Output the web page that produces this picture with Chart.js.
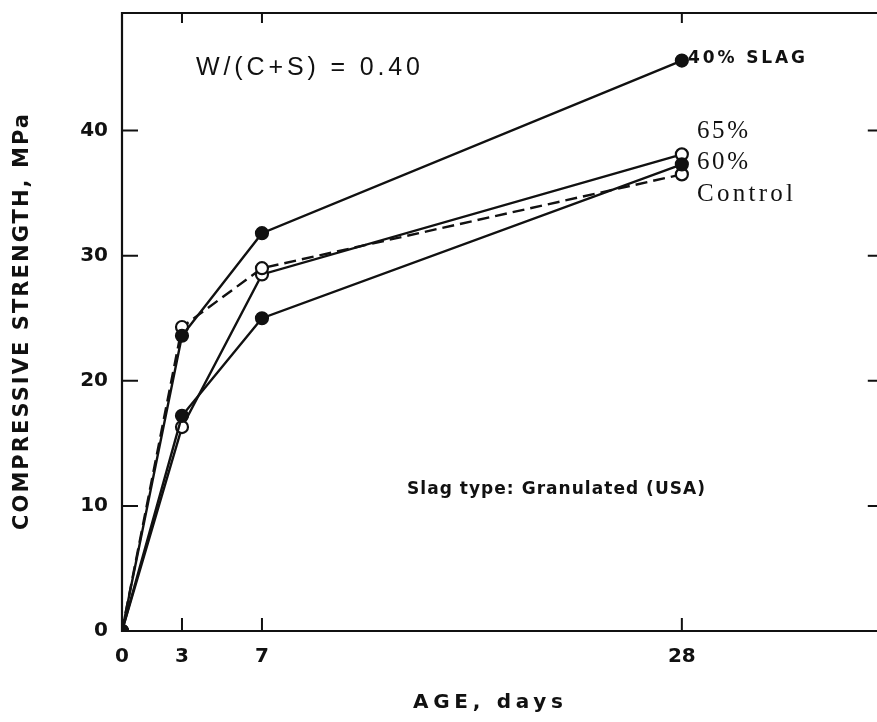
<!DOCTYPE html>
<html>
<head>
<meta charset="utf-8">
<script src="https://cdn.jsdelivr.net/npm/chart.js@4.4.1/dist/chart.umd.min.js"></script>
<style>
html,body{margin:0;padding:0;background:#fff;overflow:hidden;}
#wrap{width:890px;height:722px;}
</style>
</head>
<body>
<div id="wrap"><canvas id="c" width="890" height="722"></canvas></div>
<script>
// Data (age in days, compressive strength in MPa)
const ageDays = [0, 3, 7, 28];
const slag40 = [0, 23.6, 31.8, 45.6];
const control = [0, 24.3, 29.0, 36.5];
const slag65 = [0, 16.3, 28.5, 38.1];
const slag60 = [0, 17.2, 25.0, 37.3];
const xTickValues = [0, 3, 7, 28];
const yTickValues = [0, 10, 20, 30, 40];
const innerTickX = [3, 7, 28];
const innerTickY = [10, 20, 30, 40];

function pts(arr){ return ageDays.map((d,i)=>({x:d, y:arr[i]})); }

function spacedText(ctx, text, x, y, w, font){
  ctx.font = font;
  ctx.letterSpacing = '0px';
  const m = ctx.measureText(text).width;
  const ls = text.length > 1 ? (w - m) / (text.length - 1) : 0;
  ctx.letterSpacing = ls + 'px';
  ctx.textAlign = 'left';
  ctx.textBaseline = 'middle';
  ctx.fillText(text, x, y);
  ctx.letterSpacing = '0px';
}

const framePlugin = {
  id: 'frame',
  afterDraw(chart){
    const ctx = chart.ctx, a = chart.chartArea;
    const xs = chart.scales.x, ys = chart.scales.y;
    ctx.save();
    ctx.strokeStyle = '#111';
    ctx.lineWidth = 2.2;
    ctx.beginPath();
    ctx.rect(a.left, a.top, a.right - a.left, a.bottom - a.top);
    ctx.stroke();
    ctx.lineWidth = 2;
    ctx.beginPath();
    innerTickX.forEach(v=>{
      const px = xs.getPixelForValue(v);
      ctx.moveTo(px, a.bottom); ctx.lineTo(px, a.bottom - 13);
      ctx.moveTo(px, a.top); ctx.lineTo(px, a.top + 10);
    });
    innerTickY.forEach(v=>{
      const py = ys.getPixelForValue(v);
      ctx.moveTo(a.left, py); ctx.lineTo(a.left + 16, py);
      ctx.moveTo(a.right, py); ctx.lineTo(a.right - 14, py);
    });
    ctx.stroke();

    ctx.fillStyle = '#111';
    // axis titles
    ctx.save();
    ctx.translate(23, 322);
    ctx.rotate(-Math.PI/2);
    spacedText(ctx, 'COMPRESSIVE STRENGTH, MPa', -208, 0, 416, 'bold 21px "DejaVu Sans"');
    ctx.restore();
    spacedText(ctx, 'AGE, days', 413, 703, 150, 'bold 20px "DejaVu Sans"');

    // annotations
    spacedText(ctx, 'W/(C+S) = 0.40', 196, 68, 224, '25px "Liberation Sans"');
    spacedText(ctx, '40% SLAG', 688, 59, 117, 'bold 17px "DejaVu Sans"');
    spacedText(ctx, '65%', 697, 131, 51, '25px "Liberation Serif"');
    spacedText(ctx, '60%', 697, 162, 51, '25px "Liberation Serif"');
    spacedText(ctx, 'Control', 697, 194, 96, '25px "Liberation Serif"');
    spacedText(ctx, 'Slag type: Granulated (USA)', 407, 490, 298, 'bold 17px "DejaVu Sans"');
    ctx.restore();
  }
};

const common = {
  borderColor: '#111',
  borderWidth: 2.4,
  pointRadius: 6,
  pointBorderWidth: 2.2,
  pointBorderColor: '#111',
  tension: 0,
  fill: false
};

new Chart(document.getElementById('c'), {
  type: 'line',
  data: {
    datasets: [
      Object.assign({label:'40% SLAG', data: pts(slag40), pointBackgroundColor:'#111'}, common),
      Object.assign({label:'60%', data: pts(slag60), pointBackgroundColor:'#111'}, common),
      Object.assign({label:'Control', data: pts(control), pointBackgroundColor:'#fff', borderDash:[12,6]}, common),
      Object.assign({label:'65%', data: pts(slag65), pointBackgroundColor:'#fff'}, common)
    ]
  },
  options: {
    responsive: false,
    animation: false,
    layout: { padding: { top: 13, right: 8, left: 0, bottom: 0 } },
    plugins: { legend: { display: false }, tooltip: { enabled: false } },
    scales: {
      x: {
        type: 'linear', min: 0, max: 38,
        afterBuildTicks: s => { s.ticks = xTickValues.map(v => ({ value: v })); },
        afterFit: s => { s.height = 91; s.paddingLeft = 0; s.paddingRight = 0; },
        grid: { display: false, drawTicks: false },
        border: { display: false },
        ticks: { color: '#111', font: { family: 'DejaVu Sans', weight: 'bold', size: 20 }, padding: 14, maxRotation: 0, autoSkip: false }
      },
      y: {
        type: 'linear', min: 0, max: 49.4,
        afterBuildTicks: s => { s.ticks = yTickValues.map(v => ({ value: v })); },
        afterFit: s => { s.width = 122; s.paddingTop = 0; s.paddingBottom = 0; },
        grid: { display: false, drawTicks: false },
        border: { display: false },
        ticks: { color: '#111', font: { family: 'DejaVu Sans', weight: 'bold', size: 20 }, padding: 14 }
      }
    }
  },
  plugins: [framePlugin]
});
</script>
</body>
</html>
